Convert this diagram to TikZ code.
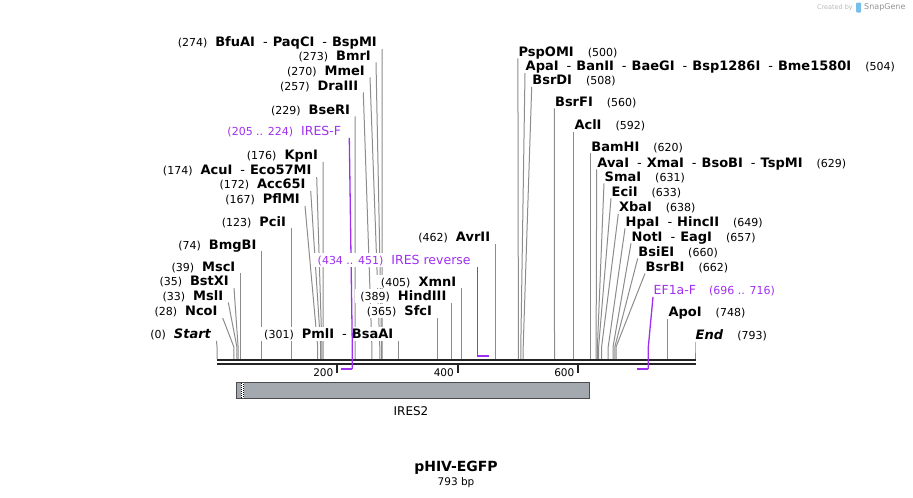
\documentclass[tikz,border=0pt]{standalone}
\usepackage{fontspec}
\setmainfont{DejaVu Sans}
\usetikzlibrary{backgrounds}
\definecolor{cutg}{gray}{.55}
\definecolor{bbn}{gray}{.14}
\definecolor{prm}{RGB}{160,48,240}
\definecolor{ftr}{RGB}{164,169,176}
\definecolor{ftb}{gray}{.3}
\definecolor{wmk}{gray}{.72}
\definecolor{snb}{RGB}{120,190,235}
\newcommand*{\sitep}[1]{{\mdseries\fontsize{11}{11}\selectfont(#1)}}
\newcommand*{\dsh}{\hspace{8pt}{\mdseries-}\hspace{5pt}}
\tikzset{
  lbl/.style={fill=white, inner ysep=1pt, text height=10.5pt, text depth=1pt, font=\fontsize{13}{13}\selectfont\bfseries},
  lsite/.style={lbl, anchor=east, inner xsep=5pt},
  rsite/.style={lbl, anchor=west, inner xsep=.5pt},
  plbl/.style={lbl, font=\fontsize{12.5}{12.5}\selectfont\mdseries, text=prm},
  cutln/.style={cutg, line width=1pt},
  prmln/.style={prm, line width=1.3pt},
  prmbar/.style={prm, line width=2pt},
  bbline/.style={bbn, line width=2.3pt},
  tick/.style={bbn, line width=2pt},
  tlbl/.style={anchor=east, inner sep=0pt, font=\fontsize{10.5}{10.5}\selectfont}
}
\newcommand*{\lsite}[5]{%
  \node[lsite](#1)at(#2,#3){#5};
  \coordinate(#1k)at(#4,347);
  \coordinate(#1b)at(#4,359);
  \begin{pgfonlayer}{background}\draw[cutln](#1.south east)--(#1k)--(#1b);\end{pgfonlayer}}
\newcommand*{\rsite}[5]{%
  \node[rsite](#1)at(#2,#3){#5};
  \coordinate(#1k)at(#4,347);
  \coordinate(#1b)at(#4,359);
  \begin{pgfonlayer}{background}\draw[cutln](#1.south west)--(#1k)--(#1b);\end{pgfonlayer}}

\begin{document}
\begin{tikzpicture}[x=1pt, y=-1pt]
    \useasboundingbox(0,0)rectangle(913,498);
    % left hand sites
    \lsite{bfua}{382}{42}{382.2}{\sitep{274}\hspace{8pt}BfuAI\dsh PaqCI\dsh BspMI}
    \lsite{bmr}{376}{55.5}{381.6}{\sitep{273}\hspace{8pt}BmrI}
    \lsite{mme}{370}{70.5}{379.8}{\sitep{270}\hspace{8pt}MmeI}
    \lsite{dra}{363.3}{85.5}{371.9}{\sitep{257}\hspace{8pt}DraIII}
    \lsite{bser}{355.2}{109.5}{355}{\sitep{229}\hspace{8pt}BseRI}
    \lsite{kpn}{323.2}{155}{323.1}{\sitep{176}\hspace{8pt}KpnI}
    \lsite{acu}{316.7}{170}{321.9}{\sitep{174}\hspace{8pt}AcuI\dsh Eco57MI}
    \lsite{acc}{310.7}{184}{320.7}{\sitep{172}\hspace{8pt}Acc65I}
    \lsite{pfl}{305}{199}{317.7}{\sitep{167}\hspace{8pt}PflMI}
    \lsite{pci}{291.1}{221.5}{291.1}{\sitep{123}\hspace{8pt}PciI}
    \lsite{bmg}{261.6}{244.5}{261.6}{\sitep{74}\hspace{8pt}BmgBI}
    \lsite{msc}{240.5}{266.5}{240.5}{\sitep{39}\hspace{8pt}MscI}
    \lsite{bstx}{234}{281}{238.1}{\sitep{35}\hspace{8pt}BstXI}
    \lsite{msl}{228.3}{295.5}{236.9}{\sitep{33}\hspace{8pt}MslI}
    \lsite{nco}{222.7}{311}{233.9}{\sitep{28}\hspace{8pt}NcoI}
    \lsite{start}{216.5}{334}{217}{\sitep{0}\hspace{8pt}\textit{Start}}		%0
    \lsite{pml}{398.4}{334}{398.4}{\sitep{301}\hspace{8pt}PmlI\dsh BsaAI}
    \lsite{sfc}{437.2}{311}{437.2}{\sitep{365}\hspace{8pt}SfcI}
    \lsite{hind}{451.6}{296}{451.6}{\sitep{389}\hspace{8pt}HindIII}
    \lsite{xmn}{461.4}{281.5}{461.4}{\sitep{405}\hspace{8pt}XmnI}
    \lsite{avr}{495.3}{237}{495.3}{\sitep{462}\hspace{8pt}AvrII}
    % right hand sites
    \rsite{psp}{517.9}{51.5}{518.4}{PspOMI\hspace{14pt}\sitep{500}}
    \rsite{apa}{525}{66}{520.8}{ApaI\dsh BanII\dsh BaeGI\dsh Bsp1286I\dsh Bme1580I\hspace{14pt}\sitep{504}}
    \rsite{bsrd}{531.7}{80}{523.2}{BsrDI\hspace{14pt}\sitep{508}}
    \rsite{bsrf}{554.4}{101.5}{554.5}{BsrFI\hspace{14pt}\sitep{560}}
    \rsite{acl}{573.8}{125}{573.8}{AclI\hspace{14pt}\sitep{592}}
    \rsite{bam}{590.7}{146.5}{590.7}{BamHI\hspace{14pt}\sitep{620}}
    \rsite{ava}{596.7}{162.5}{596.1}{AvaI\dsh XmaI\dsh BsoBI\dsh TspMI\hspace{14pt}\sitep{629}}
    \rsite{sma}{604}{176.5}{597.4}{SmaI\hspace{14pt}\sitep{631}}
    \rsite{eci}{611}{191.5}{598.6}{EciI\hspace{14pt}\sitep{633}}
    \rsite{xba}{618.3}{207}{601.6}{XbaI\hspace{14pt}\sitep{638}}
    \rsite{hpa}{625}{221.5}{608.2}{HpaI\dsh HincII\hspace{14pt}\sitep{649}}
    \rsite{noti}{631}{236.5}{613}{NotI\dsh EagI\hspace{14pt}\sitep{657}}
    \rsite{bsie}{637.7}{251.5}{614.8}{BsiEI\hspace{14pt}\sitep{660}}
    \rsite{bsrb}{645}{266.5}{616}{BsrBI\hspace{14pt}\sitep{662}}
    \rsite{apo}{667.9}{312}{667.9}{ApoI\hspace{14pt}\sitep{748}}
    \rsite{endp}{695}{335}{695}{\textit{End}\hspace{14pt}\sitep{793}}		%793
    % backbone
    \coordinate(bba)at(217,360.2);
    \coordinate(bbb)at(695.5,360.2);
    \coordinate(bbc)at(217,364.2);
    \coordinate(bbd)at(695.5,364.2);
    \draw[bbline](bba)--(bbb);
    \draw[bbline](bbc)--(bbd);
    \draw[tick](337.3,365)--(337.3,372.7);
    \node[tlbl](t200)at(333.5,372.5){200};
    \draw[tick](457.9,365)--(457.9,372.7);
    \node[tlbl](t400)at(454,372.5){400};
    \draw[tick](578.4,365)--(578.4,372.7);
    \node[tlbl](t600)at(574.5,372.5){600};
    % primers
    \node[plbl, anchor=east, inner xsep=8pt](iresf)at(349.3,131){\sitep{205 .. 224}\hspace{8pt}IRES-F};
    \coordinate(iresfk)at(352.3,347);
    \coordinate(iresfb)at(352.3,369);
    \coordinate(iresfe)at(340.6,369);
    \draw[prmln](iresf.south east)--(iresfk)--(iresfb);
    \draw[prmbar](iresfb)--(iresfe);
    \node[plbl, anchor=east, inner xsep=6.5pt](iresr)at(477.3,260){\sitep{434 .. 451}\hspace{8pt}IRES reverse};
    \coordinate(iresrb)at(477.3,356);
    \coordinate(iresre)at(488.7,356);
    \draw[prmln](iresr.south east)--(iresrb);
    \draw[prmbar](iresrb)--(iresre);
    \node[plbl, anchor=west, inner xsep=.5pt](ef1a)at(653,290){EF1a-F\hspace{13pt}\sitep{696 .. 716}};
    \coordinate(ef1ak)at(648.3,347);
    \coordinate(ef1ab)at(648.3,369);
    \coordinate(ef1ae)at(636.6,369);
    \draw[prmln](ef1a.south west)--(ef1ak)--(ef1ab);
    \draw[prmbar](ef1ab)--(ef1ae);
    % feature
    \draw[ftb, fill=ftr, line width=1pt](236,382.3)rectangle(589.3,398.3);
    \fill[white](240.7,382.8)rectangle(244,397.8);
    \draw[black, line width=1pt, dash pattern=on 1pt off 1pt](241.5,383)--(241.5,398);
    \draw[black, line width=1pt, dash pattern=on 1pt off 1pt, dash phase=1pt](243.2,383)--(243.2,398);
    \node[font=\fontsize{12}{12}\selectfont](ires2)at(411,411){IRES2};
    % title
    \node[font=\fontsize{14}{14}\selectfont\bfseries](ttl)at(456,468){pHIV-EGFP};
    \node[font=\fontsize{10.5}{10.5}\selectfont](len)at(456,482.5){793 bp};
    % mark
    \node[anchor=east, inner sep=0pt, text=wmk, font=\fontsize{6.5}{6.5}\selectfont](wmc)at(853,7.5){Created by};
    \fill[snb, rounded corners=1pt](856,2.5)rectangle(861,12.5);
    \node[anchor=west, inner sep=0pt, text=wmk!80!black, font=\fontsize{8}{8}\selectfont](wms)at(864,7.5){SnapGene};
\end{tikzpicture}
\end{document}
